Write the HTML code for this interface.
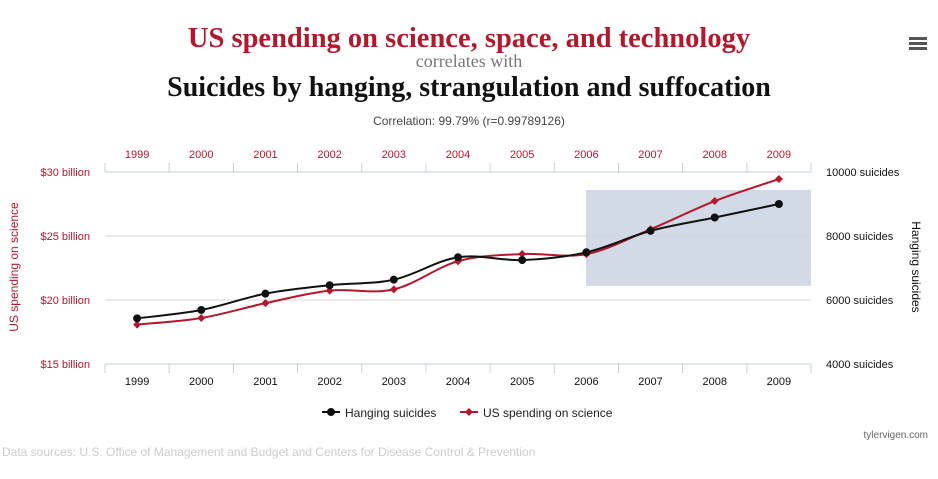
<!DOCTYPE html>
<html><head><meta charset="utf-8"><style>
body{margin:0;background:#fff;width:938px;height:474px;overflow:hidden;font-family:"Liberation Sans",sans-serif}
svg text{font-family:"Liberation Sans",sans-serif}
</style></head><body>
<svg id="c" width="938" height="474" xmlns="http://www.w3.org/2000/svg">
<text x="469" y="47" text-anchor="middle" font-weight="bold" font-size="28.5" fill="#b5182c" style="font-family:'Liberation Serif',serif">US spending on science, space, and technology</text>
<text x="469" y="67" text-anchor="middle" font-size="18" fill="#777" style="font-family:'Liberation Serif',serif">correlates with</text>
<text x="469" y="96" text-anchor="middle" font-weight="bold" font-size="28" fill="#111" style="font-family:'Liberation Serif',serif">Suicides by hanging, strangulation and suffocation</text>
<text x="469" y="125" text-anchor="middle" font-size="12" fill="#444">Correlation: 99.79% (r=0.99789126)</text>
<g><rect x="909" y="37" width="18" height="3" fill="#555"/><rect x="909" y="42" width="18" height="3" fill="#555"/><rect x="909" y="47" width="18" height="3" fill="#555"/></g>
<g id="plot"></g>
<text x="18" y="267" transform="rotate(-90 18 267)" text-anchor="middle" font-size="12" fill="#b5182c">US spending on science</text>
<text x="912" y="267" transform="rotate(90 912 267)" text-anchor="middle" font-size="12" fill="#111">Hanging suicides</text>
<g>
<g><line x1="322" y1="412" x2="340" y2="412" stroke="#111" stroke-width="2"/><circle cx="331" cy="412" r="4" fill="#111"/><text x="345" y="417" font-size="12" fill="#222">Hanging suicides</text></g>
<g><line x1="460" y1="412" x2="478" y2="412" stroke="#b5182c" stroke-width="2"/><path d="M469 408 L473 412 L469 416 L465 412Z" fill="#b5182c"/><text x="483" y="417" font-size="12" fill="#222">US spending on science</text></g>
</g>
<text x="928" y="438" text-anchor="end" font-size="10" fill="#666">tylervigen.com</text>
<text x="2" y="456" font-size="12" fill="#ccc">Data sources: U.S. Office of Management and Budget and Centers for Disease Control &amp; Prevention</text>
</svg>
<script>
const years=[1999,2000,2001,2002,2003,2004,2005,2006,2007,2008,2009];
const science=[18.079,18.594,19.753,20.734,20.831,23.029,23.597,23.584,25.525,27.731,29.449];
const suicides=[5427,5688,6198,6462,6635,7336,7248,7491,8161,8578,9000];
const leftTicks=[15,20,25,30];
const rightTicks=[4000,6000,8000,10000];
const NS="http://www.w3.org/2000/svg";
const g=document.getElementById('plot');
const X0=105,X1=811,YT=172,YB=364,step=(X1-X0)/years.length;
const x=i=>X0+step*(i+0.5);
const yl=v=>YB-(v-15)/15*(YB-YT);
const yr=v=>YB-(v-4000)/6000*(YB-YT);
function mk(t,a,p){const e=document.createElementNS(NS,t);for(const k in a)e.setAttribute(k,a[k]);(p||g).appendChild(e);return e;}
leftTicks.forEach((v,i)=>{
 const l=mk('line',{x1:X0,x2:X1,y1:yl(v),y2:yl(v),stroke:i==0||i==3?'#c0d0e0':'#d8d8d8'});
 
 
 const t=mk('text',{x:90,y:yl(v)+4,'text-anchor':'end','font-size':11,fill:'#b5182c'});t.textContent='$'+v+' billion';
 
 
});
rightTicks.forEach(v=>{
 const t=mk('text',{x:826,y:yr(v)+4,'font-size':11,fill:'#111'});t.textContent=v+' suicides';
 
 
});
for(let i=0;i<=years.length;i++){const xx=X0+step*i;
 mk('line',{x1:xx,x2:xx,y1:YT-9,y2:YT,stroke:'#c0d0e0'});
 mk('line',{x1:xx,x2:xx,y1:YB,y2:YB+9,stroke:'#c0d0e0'});}
years.forEach((y,i)=>{
 const a=mk('text',{x:x(i),y:158,'text-anchor':'middle','font-size':11,fill:'#b5182c'});a.textContent=y;
 
 
 const b=mk('text',{x:x(i),y:385,'text-anchor':'middle','font-size':11,fill:'#111'});b.textContent=y;
 
 
});
const hl=mk('rect',{x:586,y:190,width:X1-586,height:96,fill:'#ccd6e3',opacity:0.9});


function path(pts){let d='M'+pts[0].join(' ');for(let i=0;i<pts.length-1;i++){const p0=pts[i-1]||pts[i],p1=pts[i],p2=pts[i+1],p3=pts[i+2]||p2,k=6;
 d+=` C${p1[0]+(p2[0]-p0[0])/k} ${p1[1]+(p2[1]-p0[1])/k} ${p2[0]-(p3[0]-p1[0])/k} ${p2[1]-(p3[1]-p1[1])/k} ${p2[0]} ${p2[1]}`;}return d;}
const ps=science.map((v,i)=>[x(i),yl(v)]),ph=suicides.map((v,i)=>[x(i),yr(v)]);
const l1=mk('path',{d:path(ps),fill:'none',stroke:'#b5182c','stroke-width':2});


const l2=mk('path',{d:path(ph),fill:'none',stroke:'#111','stroke-width':2});


ps.forEach(p=>{const m=mk('path',{d:`M${p[0]} ${p[1]-4}L${p[0]+4} ${p[1]}L${p[0]} ${p[1]+4}L${p[0]-4} ${p[1]}Z`,fill:'#b5182c'});
 
 });
ph.forEach(p=>{const m=mk('circle',{cx:p[0],cy:p[1],r:4,fill:'#111'});
 
 });
</script>
</body></html>
